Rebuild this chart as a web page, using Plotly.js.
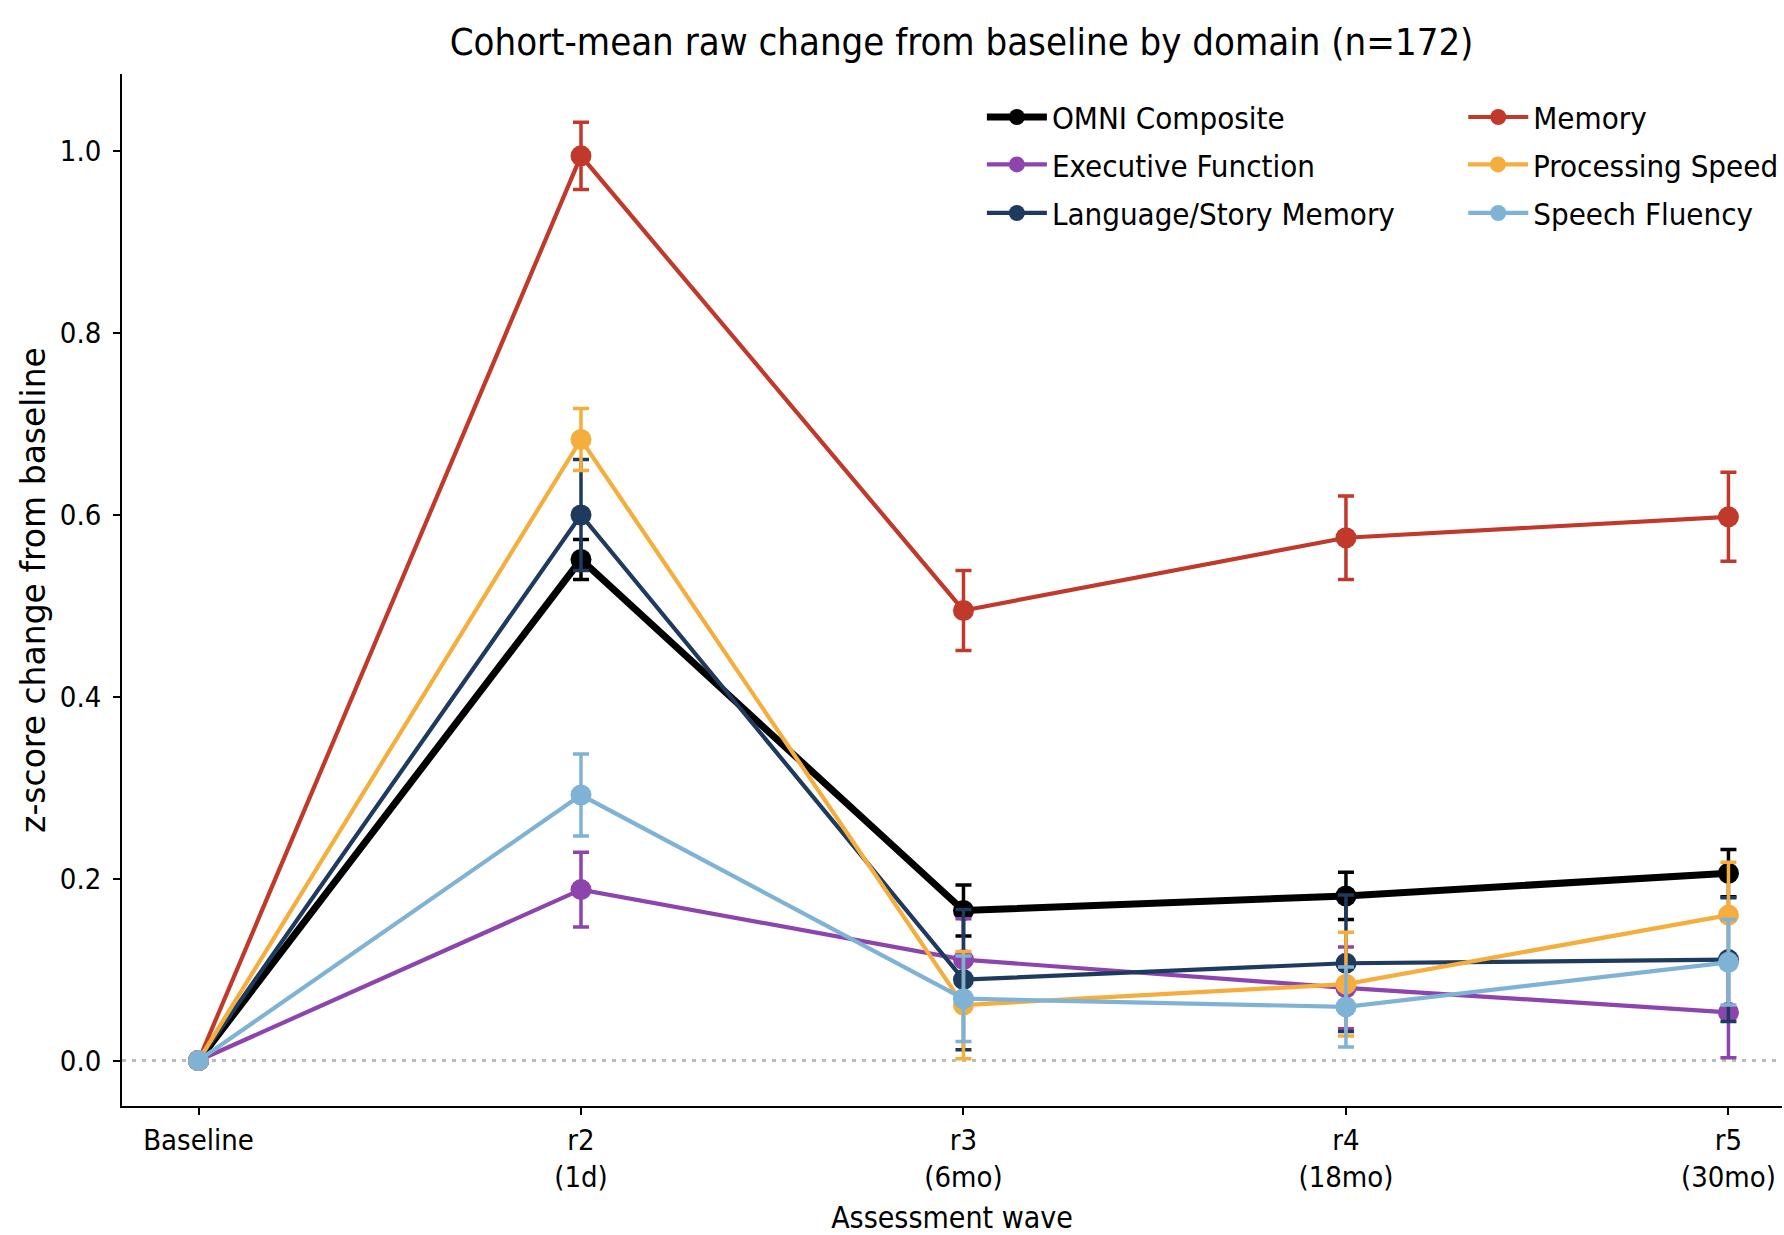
<!DOCTYPE html>
<html>
<head>
<meta charset="utf-8">
<script src="https://cdn.plot.ly/plotly-3.0.1.min.js"></script>
<style>
  html, body { margin: 0; padding: 0; background: #ffffff; }
  #chart { width: 1784px; height: 1235px; }
</style>
</head>
<body>
<div id="chart"></div>
<script>
// ---- Data ----
const waves = ['Baseline', 'r2<br>(1d)', 'r3<br>(6mo)', 'r4<br>(18mo)', 'r5<br>(30mo)'];

const omniComposite    = [0, 0.551, 0.165, 0.181, 0.206];
const omniCompositeErr = [0, 0.022, 0.028, 0.026, 0.026];

const executiveFunction    = [0, 0.188, 0.111, 0.080, 0.053];
const executiveFunctionErr = [0, 0.041, 0.045, 0.045, 0.050];

const languageStoryMemory    = [0, 0.600, 0.089, 0.107, 0.111];
const languageStoryMemoryErr = [0, 0.061, 0.077, 0.075, 0.068];

const memory    = [0, 0.995, 0.495, 0.575, 0.598];
const memoryErr = [0, 0.037, 0.044, 0.046, 0.049];

const processingSpeed    = [0, 0.683, 0.061, 0.084, 0.160];
const processingSpeedErr = [0, 0.034, 0.059, 0.057, 0.058];

const speechFluency    = [0, 0.292, 0.068, 0.059, 0.108];
const speechFluencyErr = [0, 0.045, 0.047, 0.044, 0.047];

const yTicks = [0, 0.2, 0.4, 0.6, 0.8, 1.0];

// ---- Styling ----
const FONT = 'DejaVu Sans Condensed, DejaVu Sans, sans-serif';

function series(name, y, err, color, lw, legendId) {
  return {
    type: 'scatter',
    mode: 'lines+markers',
    name: name,
    x: waves,
    y: y,
    legend: legendId,
    line: { color: color, width: lw },
    marker: { color: color, size: 21 },
    error_y: { type: 'data', array: err, visible: true, color: color, thickness: 3.5, width: 8 },
    hoverinfo: 'x+y+name'
  };
}

const traces = [
  series('OMNI Composite', omniComposite, omniCompositeErr, '#000000', 7, 'legend'),
  series('Executive Function', executiveFunction, executiveFunctionErr, '#8e44ad', 4.2, 'legend2'),
  series('Language/Story Memory', languageStoryMemory, languageStoryMemoryErr, '#1f3a5f', 4.2, 'legend3'),
  series('Memory', memory, memoryErr, '#c0392b', 4.2, 'legend4'),
  series('Processing Speed', processingSpeed, processingSpeedErr, '#f5ae3d', 4.2, 'legend5'),
  series('Speech Fluency', speechFluency, speechFluencyErr, '#7fb3d5', 4.2, 'legend6')
];

function legendAt(x, y) {
  return {
    x: x, y: y, xanchor: 'left', yanchor: 'middle',
    xref: 'paper', yref: 'paper',
    bgcolor: 'rgba(0,0,0,0)', borderwidth: 0,
    font: { family: FONT, size: 31, color: '#000000' },
    itemwidth: 60
  };
}

const col1 = 0.518, col2 = 0.808;
const row1 = 0.958, row2 = 0.912, row3 = 0.865;

const layout = {
  width: 1784,
  height: 1235,
  paper_bgcolor: '#ffffff',
  plot_bgcolor: '#ffffff',
  margin: { l: 122, r: 0, t: 74, b: 129, pad: 0 },
  font: { family: FONT, color: '#000000' },
  title: {
    text: 'Cohort-mean raw change from baseline by domain (n=172)',
    font: { family: FONT, size: 38, color: '#000000' },
    x: 0.539, xref: 'container', xanchor: 'center',
    y: 0.966, yref: 'container', yanchor: 'middle'
  },
  xaxis: {
    type: 'category',
    range: [-0.2, 4.14],
    showline: true, linecolor: '#000000', linewidth: 1.8,
    ticks: 'outside', ticklen: 7, tickwidth: 1.5, tickcolor: '#000000',
    showgrid: false, zeroline: false,
    tickfont: { family: FONT, size: 29, color: '#000000' },
    title: { text: 'Assessment wave', font: { family: FONT, size: 30, color: '#000000' }, standoff: 20 },
    automargin: false
  },
  yaxis: {
    range: [-0.05, 1.085],
    tickvals: yTicks,
    tickformat: '.1f',
    showline: true, linecolor: '#000000', linewidth: 1.8,
    ticks: 'outside', ticklen: 7, tickwidth: 1.5, tickcolor: '#000000',
    showgrid: false, zeroline: false,
    tickfont: { family: FONT, size: 29, color: '#000000' },
    ticklabelstandoff: 6,
    title: { text: 'z-score change from baseline', font: { family: 'DejaVu Sans, sans-serif', size: 33, color: '#000000' }, standoff: 4 },
    automargin: false
  },
  shapes: [{
    type: 'line', xref: 'paper', x0: 0, x1: 1, yref: 'y', y0: 0, y1: 0,
    line: { color: '#bbbbbb', width: 3, dash: '4px,6px' },
    layer: 'below'
  }],
  showlegend: true,
  legend: legendAt(col1, row1),
  legend2: legendAt(col1, row2),
  legend3: legendAt(col1, row3),
  legend4: legendAt(col2, row1),
  legend5: legendAt(col2, row2),
  legend6: legendAt(col2, row3)
};

Plotly.newPlot('chart', traces, layout, { displayModeBar: false, responsive: false });
</script>
</body>
</html>
